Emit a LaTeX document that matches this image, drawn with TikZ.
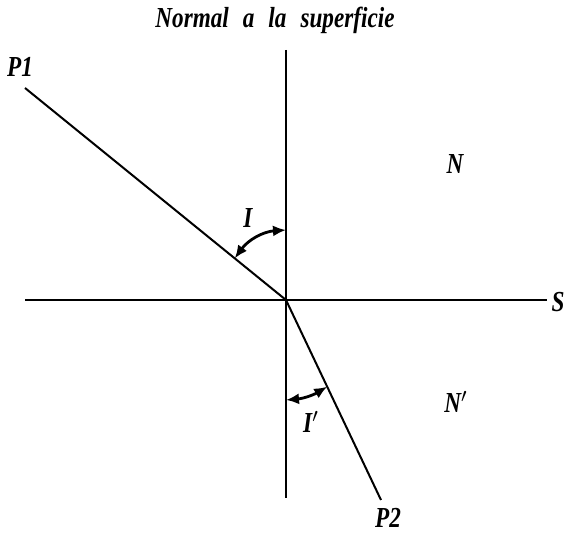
\documentclass[tikz,border=0pt]{standalone}
\usepackage{fontspec}
\setmainfont{Liberation Serif}[FakeStretch=0.8]
\usetikzlibrary{arrows.meta,calc}

\begin{document}
\begin{tikzpicture}[x=0.5pt,y=-0.5pt,
    ray/.style={line width=1pt},
    angarc/.style={line width=1.4pt,{Latex[length=6.5pt,width=5.5pt]}-{Latex[length=6.5pt,width=5.5pt]}},
    lbl/.style={font=\bfseries\itshape\fontsize{14.5}{16}\selectfont,inner sep=0pt}]

\useasboundingbox (0,0) rectangle (564,533);

\coordinate (O) at (286,300);
\coordinate (top) at (286,50);
\coordinate (bot) at (286,498);
\coordinate (west) at (25,300);
\coordinate (east) at (547,300);
\coordinate (p1) at (25,88);
\coordinate (p2) at (381,500);

\node[lbl] (title) at (275,20) {Normal\hspace{7pt}a\hspace{7pt}la\hspace{7pt}superficie};
\node[lbl] (P1) at (20,67) {P1};
\node[lbl] (P2) at (388,518) {P2};
\node[lbl] (S) at (558,302) {S};
\node[lbl] (N) at (455,164) {N};
\node[lbl] (N') at (456,402) {N$'$};
\node[lbl] (I) at (248,218) {I};
\node[lbl] (I') at (311,422) {I$'$};

\draw[ray] (top) -- (bot);
\draw[ray] (west) -- (east);
\draw[ray] (p1) -- (O);
\draw[ray] (O) -- (p2);

\draw[angarc] ($(O)!33pt!(p1)$) to[bend left=25] ($(O)!35pt!(top)$);
\draw[angarc] ($(O)!50pt!(bot)$) to[bend right=13] ($(O)!48pt!(p2)$);
\end{tikzpicture}
\end{document}
